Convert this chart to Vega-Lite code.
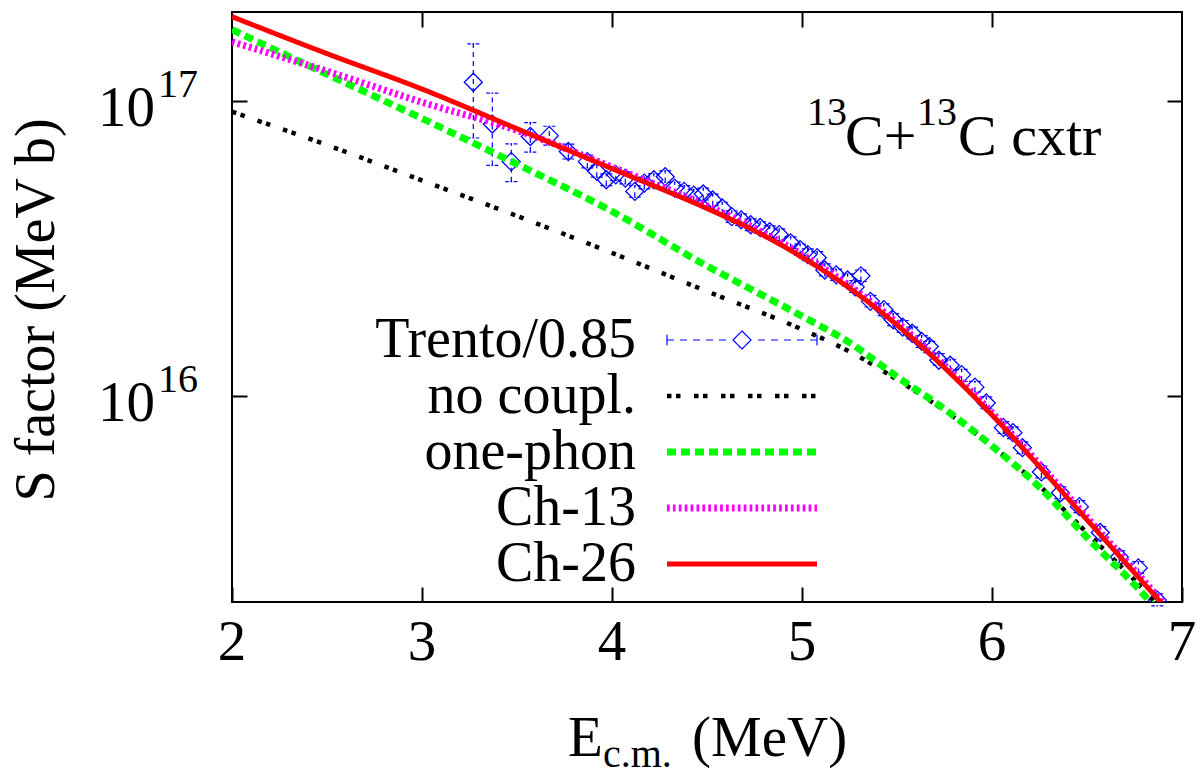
{
  "$schema": "https://vega.github.io/schema/vega-lite/v6.json",
  "width": 950,
  "height": 590,
  "autosize": {"type": "none"},
  "padding": {"left": 232, "top": 12, "right": 16, "bottom": 174},
  "background": "#ffffff",
  "config": {
    "view": {"stroke": "#000000", "strokeWidth": 2},
    "axis": {
      "domain": false, "grid": false, "ticks": true, "tickSize": 15, "tickWidth": 2,
      "tickColor": "#000000", "offset": -15, "labels": false, "title": null
    },
    "text": {"font": "Liberation Serif", "color": "#000000"}
  },
  "datasets": {
    "curves": [
      {"series": "no coupl.", "E": 2.0, "S": 9.18e16},
      {"series": "no coupl.", "E": 2.5, "S": 7.08e16},
      {"series": "no coupl.", "E": 3.0, "S": 5.37e16},
      {"series": "no coupl.", "E": 3.5, "S": 4.07e16},
      {"series": "no coupl.", "E": 4.0, "S": 3.05e16},
      {"series": "no coupl.", "E": 4.5, "S": 2.26e16},
      {"series": "no coupl.", "E": 5.0, "S": 1.679e16},
      {"series": "no coupl.", "E": 5.25, "S": 1.413e16},
      {"series": "no coupl.", "E": 5.5, "S": 1.135e16},
      {"series": "no coupl.", "E": 5.75, "S": 8.91e15},
      {"series": "no coupl.", "E": 6.0, "S": 6.76e15},
      {"series": "no coupl.", "E": 6.25, "S": 4.95e15},
      {"series": "no coupl.", "E": 6.5, "S": 3.43e15},
      {"series": "no coupl.", "E": 6.75, "S": 2.37e15},
      {"series": "no coupl.", "E": 7.0, "S": 1.585e15},
      {"series": "one-phon", "E": 2.0, "S": 1.742e17},
      {"series": "one-phon", "E": 2.5, "S": 1.23e17},
      {"series": "one-phon", "E": 3.0, "S": 8.71e16},
      {"series": "one-phon", "E": 3.5, "S": 6.1e16},
      {"series": "one-phon", "E": 4.0, "S": 4.22e16},
      {"series": "one-phon", "E": 4.5, "S": 2.754e16},
      {"series": "one-phon", "E": 4.75, "S": 2.265e16},
      {"series": "one-phon", "E": 5.0, "S": 1.862e16},
      {"series": "one-phon", "E": 5.25, "S": 1.514e16},
      {"series": "one-phon", "E": 5.5, "S": 1.161e16},
      {"series": "one-phon", "E": 5.75, "S": 9.02e15},
      {"series": "one-phon", "E": 6.0, "S": 6.76e15},
      {"series": "one-phon", "E": 6.25, "S": 4.9e15},
      {"series": "one-phon", "E": 6.5, "S": 3.31e15},
      {"series": "one-phon", "E": 6.75, "S": 2.29e15},
      {"series": "one-phon", "E": 7.0, "S": 1.51e15},
      {"series": "Ch-13", "E": 2.0, "S": 1.585e17},
      {"series": "Ch-13", "E": 2.5, "S": 1.26e17},
      {"series": "Ch-13", "E": 3.0, "S": 9.89e16},
      {"series": "Ch-13", "E": 3.5, "S": 7.94e16},
      {"series": "Ch-13", "E": 4.0, "S": 5.96e16},
      {"series": "Ch-13", "E": 4.5, "S": 4.4e16},
      {"series": "Ch-13", "E": 4.75, "S": 3.7e16},
      {"series": "Ch-13", "E": 5.0, "S": 3.01e16},
      {"series": "Ch-13", "E": 5.25, "S": 2.36e16},
      {"series": "Ch-13", "E": 5.5, "S": 1.77e16},
      {"series": "Ch-13", "E": 5.75, "S": 1.268e16},
      {"series": "Ch-13", "E": 6.0, "S": 8.77e15},
      {"series": "Ch-13", "E": 6.25, "S": 5.86e15},
      {"series": "Ch-13", "E": 6.5, "S": 3.87e15},
      {"series": "Ch-13", "E": 6.75, "S": 2.56e15},
      {"series": "Ch-13", "E": 7.0, "S": 1.69e15},
      {"series": "Ch-26", "E": 2.0, "S": 1.928e17},
      {"series": "Ch-26", "E": 2.5, "S": 1.445e17},
      {"series": "Ch-26", "E": 3.0, "S": 1.096e17},
      {"series": "Ch-26", "E": 3.5, "S": 8.04e16},
      {"series": "Ch-26", "E": 4.0, "S": 5.89e16},
      {"series": "Ch-26", "E": 4.5, "S": 4.315e16},
      {"series": "Ch-26", "E": 4.75, "S": 3.63e16},
      {"series": "Ch-26", "E": 5.0, "S": 2.951e16},
      {"series": "Ch-26", "E": 5.25, "S": 2.317e16},
      {"series": "Ch-26", "E": 5.5, "S": 1.738e16},
      {"series": "Ch-26", "E": 5.75, "S": 1.245e16},
      {"series": "Ch-26", "E": 6.0, "S": 8.61e15},
      {"series": "Ch-26", "E": 6.25, "S": 5.75e15},
      {"series": "Ch-26", "E": 6.5, "S": 3.8e15},
      {"series": "Ch-26", "E": 6.75, "S": 2.51e15},
      {"series": "Ch-26", "E": 7.0, "S": 1.66e15}
    ],
    "trento": [
      {"E": 3.27, "S": 1.156e17, "lo": 7.48e16, "hi": 1.56e17},
      {"E": 3.37, "S": 8.34e16, "lo": 6.04e16, "hi": 1.062e17},
      {"E": 3.47, "S": 6.22e16, "lo": 5.32e16, "hi": 7.15e16},
      {"E": 3.57, "S": 7.57e16, "lo": 6.7e16, "hi": 8.43e16},
      {"E": 3.67, "S": 7.62e16, "lo": 7.08e16, "hi": 8.2e16},
      {"E": 3.77, "S": 6.73e16, "lo": 6.35e16, "hi": 7.13e16},
      {"E": 3.87, "S": 6.22e16, "lo": 5.92e16, "hi": 6.55e16},
      {"E": 3.92, "S": 5.77e16, "lo": 5.51e16, "hi": 6.04e16},
      {"E": 3.97, "S": 5.4e16, "lo": 5.16e16, "hi": 5.65e16},
      {"E": 4.02, "S": 5.61e16, "lo": 5.36e16, "hi": 5.87e16},
      {"E": 4.07, "S": 5.47e16, "lo": 5.23e16, "hi": 5.73e16},
      {"E": 4.12, "S": 4.93e16, "lo": 4.71e16, "hi": 5.16e16},
      {"E": 4.17, "S": 5.26e16, "lo": 5.03e16, "hi": 5.51e16},
      {"E": 4.22, "S": 5.4e16, "lo": 5.16e16, "hi": 5.65e16},
      {"E": 4.28, "S": 5.53e16, "lo": 5.29e16, "hi": 5.79e16},
      {"E": 4.33, "S": 5.06e16, "lo": 4.83e16, "hi": 5.3e16},
      {"E": 4.38, "S": 4.93e16, "lo": 4.71e16, "hi": 5.16e16},
      {"E": 4.43, "S": 4.79e16, "lo": 4.57e16, "hi": 5.01e16},
      {"E": 4.48, "S": 4.83e16, "lo": 4.61e16, "hi": 5.06e16},
      {"E": 4.53, "S": 4.61e16, "lo": 4.41e16, "hi": 4.83e16},
      {"E": 4.58, "S": 4.33e16, "lo": 4.13e16, "hi": 4.53e16},
      {"E": 4.63, "S": 4.05e16, "lo": 3.87e16, "hi": 4.24e16},
      {"E": 4.68, "S": 3.95e16, "lo": 3.78e16, "hi": 4.14e16},
      {"E": 4.73, "S": 3.8e16, "lo": 3.63e16, "hi": 3.98e16},
      {"E": 4.78, "S": 3.72e16, "lo": 3.55e16, "hi": 3.89e16},
      {"E": 4.83, "S": 3.6e16, "lo": 3.43e16, "hi": 3.77e16},
      {"E": 4.88, "S": 3.52e16, "lo": 3.36e16, "hi": 3.68e16},
      {"E": 4.94, "S": 3.3e16, "lo": 3.16e16, "hi": 3.46e16},
      {"E": 4.99, "S": 3.13e16, "lo": 2.99e16, "hi": 3.27e16},
      {"E": 5.03, "S": 3.01e16, "lo": 2.87e16, "hi": 3.15e16},
      {"E": 5.08, "S": 2.94e16, "lo": 2.81e16, "hi": 3.08e16},
      {"E": 5.12, "S": 2.67e16, "lo": 2.55e16, "hi": 2.8e16},
      {"E": 5.18, "S": 2.57e16, "lo": 2.46e16, "hi": 2.69e16},
      {"E": 5.24, "S": 2.47e16, "lo": 2.36e16, "hi": 2.59e16},
      {"E": 5.28, "S": 2.34e16, "lo": 2.24e16, "hi": 2.46e16},
      {"E": 5.31, "S": 2.55e16, "lo": 2.44e16, "hi": 2.67e16},
      {"E": 5.36, "S": 2.09e16, "lo": 2.0e16, "hi": 2.19e16},
      {"E": 5.43, "S": 1.96e16, "lo": 1.87e16, "hi": 2.05e16},
      {"E": 5.48, "S": 1.81e16, "lo": 1.73e16, "hi": 1.9e16},
      {"E": 5.53, "S": 1.71e16, "lo": 1.64e16, "hi": 1.8e16},
      {"E": 5.58, "S": 1.63e16, "lo": 1.56e16, "hi": 1.71e16},
      {"E": 5.63, "S": 1.53e16, "lo": 1.46e16, "hi": 1.6e16},
      {"E": 5.67, "S": 1.47e16, "lo": 1.4e16, "hi": 1.53e16},
      {"E": 5.72, "S": 1.32e16, "lo": 1.27e16, "hi": 1.39e16},
      {"E": 5.78, "S": 1.27e16, "lo": 1.22e16, "hi": 1.33e16},
      {"E": 5.84, "S": 1.18e16, "lo": 1.12e16, "hi": 1.23e16},
      {"E": 5.91, "S": 1.07e16, "lo": 1.03e16, "hi": 1.12e16},
      {"E": 5.97, "S": 9.46e15, "lo": 9.04e15, "hi": 9.91e15},
      {"E": 6.06, "S": 7.8e15, "lo": 7.45e15, "hi": 8.17e15},
      {"E": 6.11, "S": 7.5e15, "lo": 7.16e15, "hi": 7.85e15},
      {"E": 6.16, "S": 6.67e15, "lo": 6.37e15, "hi": 6.98e15},
      {"E": 6.26, "S": 5.52e15, "lo": 5.27e15, "hi": 5.78e15},
      {"E": 6.36, "S": 4.69e15, "lo": 4.48e15, "hi": 4.91e15},
      {"E": 6.46, "S": 4.21e15, "lo": 4.02e15, "hi": 4.41e15},
      {"E": 6.57, "S": 3.44e15, "lo": 3.28e15, "hi": 3.6e15},
      {"E": 6.67, "S": 2.84e15, "lo": 2.72e15, "hi": 2.98e15},
      {"E": 6.77, "S": 2.61e15, "lo": 2.5e15, "hi": 2.74e15},
      {"E": 6.87, "S": 2.03e15, "lo": 1.94e15, "hi": 2.13e15}
    ],
    "xticks": [{"E": 2}, {"E": 3}, {"E": 4}, {"E": 5}, {"E": 6}, {"E": 7}],
    "decades": [{"v": 1e16, "p": "16"}, {"v": 1e17, "p": "17"}],
    "anchor": [{}]
  },
  "layer": [
    {
      "data": {"name": "trento"},
      "mark": {"type": "rule", "color": "#0000ff", "strokeWidth": 1.2, "strokeDash": [5, 4], "clip": true},
      "encoding": {
        "x": {
          "field": "E", "type": "quantitative",
          "scale": {"domain": [2, 7], "nice": false, "zero": false},
          "axis": {"orient": "bottom", "values": [2, 3, 4, 5, 6, 7]}
        },
        "y": {
          "field": "lo", "type": "quantitative",
          "scale": {"type": "log", "domain": [2e15, 2e17], "nice": false},
          "axis": {"orient": "left", "values": [1e16, 1e17]}
        },
        "y2": {"field": "hi"}
      }
    },
    {
      "data": {"name": "trento"},
      "mark": {"type": "point", "shape": "M-1,0H-0.4M-0.15,0H0.15M0.4,0H1", "size": 144, "filled": false, "strokeWidth": 1.2, "color": "#0000ff", "opacity": 1},
      "encoding": {
        "x": {"field": "E", "type": "quantitative", "axis": null},
        "y": {"field": "lo", "type": "quantitative", "axis": null}
      }
    },
    {
      "data": {"name": "trento"},
      "mark": {"type": "point", "shape": "M-1,0H-0.4M-0.15,0H0.15M0.4,0H1", "size": 144, "filled": false, "strokeWidth": 1.2, "color": "#0000ff", "opacity": 1},
      "encoding": {
        "x": {"field": "E", "type": "quantitative", "axis": null},
        "y": {"field": "hi", "type": "quantitative", "axis": null}
      }
    },
    {
      "data": {"name": "trento"},
      "mark": {"type": "point", "shape": "diamond", "size": 324, "filled": false, "strokeWidth": 1.3, "color": "#0000ff", "opacity": 1, "clip": true},
      "encoding": {
        "x": {"field": "E", "type": "quantitative", "axis": {"orient": "top", "values": [3, 4, 5, 6]}},
        "y": {"field": "S", "type": "quantitative", "axis": {"orient": "right", "values": [1e16, 1e17]}}
      }
    },
    {
      "data": {"name": "curves"},
      "transform": [{"filter": "datum.series === 'no coupl.'"}],
      "mark": {"type": "line", "strokeWidth": 4.5, "interpolate": "monotone", "clip": true},
      "encoding": {
        "x": {"field": "E", "type": "quantitative", "axis": null},
        "y": {"field": "S", "type": "quantitative", "axis": null},
        "color": {
          "field": "series", "type": "nominal",
          "scale": {
            "domain": ["Trento/0.85", "no coupl.", "one-phon", "Ch-13", "Ch-26"],
            "range": ["#0000ff", "#000000", "#00ff00", "#ff00ff", "#ff0000"]
          },
          "legend": {
            "orient": "none", "legendX": 482, "legendY": 300, "title": null, "direction": "vertical",
            "padding": 0, "rowPadding": 0, "symbolSize": 22500, "symbolOffset": 0,
            "labelFont": "Liberation Serif", "labelFontSize": 56, "labelColor": "#000000",
            "labelAlign": "right", "labelBaseline": "middle", "labelOffset": -134, "labelLimit": 600,
            "symbolStrokeWidth": 5,
            "encode": {
              "symbols": {
                "update": {
                  "shape": {"signal": "datum.value === 'Trento/0.85' ? 'M-1,-0.07V0.07M1,-0.07V0.07M-1,0H-0.907M-0.827,0H-0.733M-0.653,0H-0.56M-0.48,0H-0.387M-0.307,0H-0.213M0.213,0H0.307M0.387,0H0.48M0.56,0H0.653M0.733,0H0.827M0.907,0H1M0,-0.12L0.12,0L0,0.12L-0.12,0Z' : 'M-1,0H1'"},
                  "strokeWidth": {"signal": "datum.value === 'Trento/0.85' ? 1.2 : datum.value === 'no coupl.' ? 4.5 : datum.value === 'Ch-26' ? 5 : 7"},
                  "fill": {"value": "transparent"}
                }
              }
            }
          }
        },
        "strokeDash": {
          "field": "series", "type": "nominal",
          "scale": {
            "domain": ["Trento/0.85", "no coupl.", "one-phon", "Ch-13", "Ch-26"],
            "range": [[1, 0], [4.5, 4.5, 4.5, 13.5], [9, 5], [2.7, 3.2], [1, 0]]
          }
        }
      }
    },
    {
      "data": {"name": "curves"},
      "transform": [{"filter": "datum.series === 'one-phon'"}],
      "mark": {"type": "line", "strokeWidth": 7, "interpolate": "monotone", "clip": true},
      "encoding": {
        "x": {"field": "E", "type": "quantitative", "axis": null},
        "y": {"field": "S", "type": "quantitative", "axis": null},
        "color": {"field": "series", "type": "nominal"},
        "strokeDash": {"field": "series", "type": "nominal"}
      }
    },
    {
      "data": {"name": "curves"},
      "transform": [{"filter": "datum.series === 'Ch-13'"}],
      "mark": {"type": "line", "strokeWidth": 7, "interpolate": "monotone", "clip": true},
      "encoding": {
        "x": {"field": "E", "type": "quantitative", "axis": null},
        "y": {"field": "S", "type": "quantitative", "axis": null},
        "color": {"field": "series", "type": "nominal"},
        "strokeDash": {"field": "series", "type": "nominal"}
      }
    },
    {
      "data": {"name": "curves"},
      "transform": [{"filter": "datum.series === 'Ch-26'"}],
      "mark": {"type": "line", "strokeWidth": 5, "interpolate": "monotone", "clip": true},
      "encoding": {
        "x": {"field": "E", "type": "quantitative", "axis": null},
        "y": {"field": "S", "type": "quantitative", "axis": null},
        "color": {"field": "series", "type": "nominal"},
        "strokeDash": {"field": "series", "type": "nominal"}
      }
    },
    {
      "data": {"name": "xticks"},
      "mark": {"type": "text", "align": "center", "baseline": "alphabetic", "dy": 58, "fontSize": 57},
      "encoding": {
        "x": {"field": "E", "type": "quantitative", "axis": null},
        "y": {"datum": 2e15, "type": "quantitative", "axis": null},
        "text": {"field": "E", "type": "quantitative", "format": "d"}
      }
    },
    {
      "data": {"name": "decades"},
      "mark": {"type": "text", "text": "10", "align": "right", "baseline": "alphabetic", "dx": -77, "dy": 25, "fontSize": 57},
      "encoding": {
        "x": {"datum": 2, "type": "quantitative", "axis": null},
        "y": {"field": "v", "type": "quantitative", "axis": null}
      }
    },
    {
      "data": {"name": "decades"},
      "mark": {"type": "text", "align": "left", "baseline": "alphabetic", "dx": -74, "dy": -4, "fontSize": 40},
      "encoding": {
        "x": {"datum": 2, "type": "quantitative", "axis": null},
        "y": {"field": "v", "type": "quantitative", "axis": null},
        "text": {"field": "p"}
      }
    },
    {
      "data": {"name": "anchor"},
      "mark": {"type": "text", "text": "S factor (MeV b)", "angle": 270, "align": "center", "baseline": "alphabetic", "dx": -3, "dy": -178, "fontSize": 56},
      "encoding": {
        "x": {"datum": 2, "type": "quantitative", "axis": null},
        "y": {"datum": 2e16, "type": "quantitative", "axis": null}
      }
    },
    {
      "data": {"name": "anchor"},
      "mark": {"type": "text", "text": "E", "align": "left", "baseline": "alphabetic", "dx": -139, "dy": 154, "fontSize": 57},
      "encoding": {
        "x": {"datum": 4.5, "type": "quantitative", "axis": null},
        "y": {"datum": 2e15, "type": "quantitative", "axis": null}
      }
    },
    {
      "data": {"name": "anchor"},
      "mark": {"type": "text", "text": "c.m.", "align": "left", "baseline": "alphabetic", "dx": -104, "dy": 165, "fontSize": 40},
      "encoding": {
        "x": {"datum": 4.5, "type": "quantitative", "axis": null},
        "y": {"datum": 2e15, "type": "quantitative", "axis": null}
      }
    },
    {
      "data": {"name": "anchor"},
      "mark": {"type": "text", "text": "(MeV)", "align": "left", "baseline": "alphabetic", "dx": -15, "dy": 154, "fontSize": 57},
      "encoding": {
        "x": {"datum": 4.5, "type": "quantitative", "axis": null},
        "y": {"datum": 2e15, "type": "quantitative", "axis": null}
      }
    },
    {
      "data": {"name": "anchor"},
      "mark": {"type": "text", "text": "13", "align": "left", "baseline": "alphabetic", "dx": -375, "dy": 24, "fontSize": 40},
      "encoding": {
        "x": {"datum": 7, "type": "quantitative", "axis": null},
        "y": {"datum": 1e17, "type": "quantitative", "axis": null}
      }
    },
    {
      "data": {"name": "anchor"},
      "mark": {"type": "text", "text": "C+", "align": "left", "baseline": "alphabetic", "dx": -337, "dy": 54, "fontSize": 58},
      "encoding": {
        "x": {"datum": 7, "type": "quantitative", "axis": null},
        "y": {"datum": 1e17, "type": "quantitative", "axis": null}
      }
    },
    {
      "data": {"name": "anchor"},
      "mark": {"type": "text", "text": "13", "align": "left", "baseline": "alphabetic", "dx": -265, "dy": 24, "fontSize": 40},
      "encoding": {
        "x": {"datum": 7, "type": "quantitative", "axis": null},
        "y": {"datum": 1e17, "type": "quantitative", "axis": null}
      }
    },
    {
      "data": {"name": "anchor"},
      "mark": {"type": "text", "text": "C cxtr", "align": "left", "baseline": "alphabetic", "dx": -224, "dy": 54, "fontSize": 58},
      "encoding": {
        "x": {"datum": 7, "type": "quantitative", "axis": null},
        "y": {"datum": 1e17, "type": "quantitative", "axis": null}
      }
    }
  ],
  "resolve": {"axis": {"x": "independent", "y": "independent"}}
}
